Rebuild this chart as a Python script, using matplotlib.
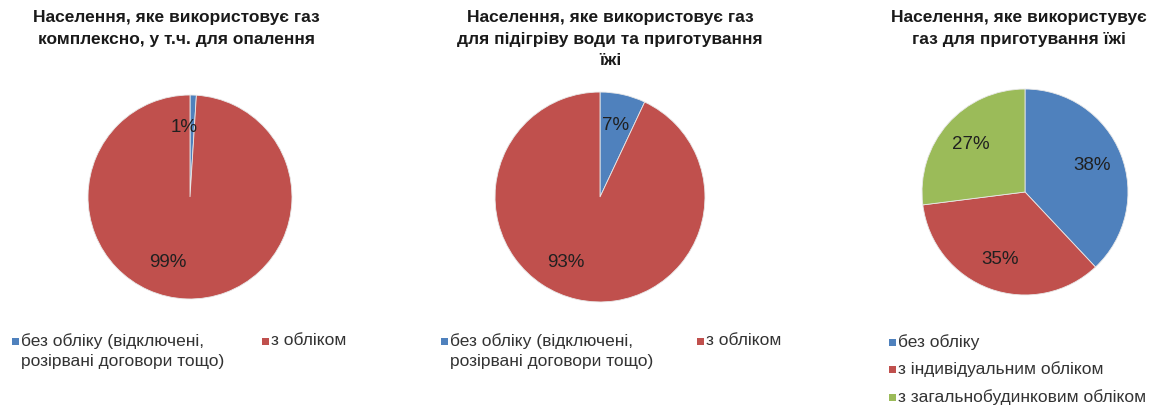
import matplotlib
matplotlib.use('Agg')
import matplotlib.pyplot as plt
from matplotlib.patches import Rectangle

plt.rcParams['font.family'] = ['Liberation Sans', 'DejaVu Sans']

W, H = 1162, 409

# дані
titles = [
    'Населення, яке використовує газ\nкомплексно, у т.ч. для опалення',
    'Населення, яке використовує газ\nдля підігріву води та приготування\nїжі',
    'Населення, яке використувує\nгаз для приготування їжі',
]
labels1 = ['без обліку (відключені,\nрозірвані договори тощо)', 'з обліком']
values1 = [1, 99]
labels2 = ['без обліку (відключені,\nрозірвані договори тощо)', 'з обліком']
values2 = [7, 93]
labels3 = ['без обліку', 'з індивідуальним обліком', 'з загальнобудинковим обліком']
values3 = [38, 35, 27]

colors = ['#4F81BD', '#C0504D', '#9BBB59']

fig = plt.figure(figsize=(W / 100, H / 100), dpi=100)
fig.patch.set_facecolor('white')


def px_axes(cx, cy, r):
    return fig.add_axes([(cx - r) / W, (H - cy - r) / H, 2 * r / W, 2 * r / H])


def pie(ax, vals):
    wedges, texts, autot = ax.pie(vals, colors=colors[:len(vals)], startangle=90,
                                  counterclock=False, autopct='%1.0f%%',
                                  pctdistance=0.7, radius=1,
                                  wedgeprops=dict(linewidth=0.6, edgecolor='#e8e8e8'),
                                  textprops=dict(fontsize=13.5, color='#202020'))
    ax.set_xlim(-1.01, 1.01)
    ax.set_ylim(-1.01, 1.01)
    ax.set_aspect('equal')
    ax.axis('off')
    return wedges, autot


ax1 = px_axes(190, 197, 103)
w1, t1 = pie(ax1, values1)
ax2 = px_axes(600, 197, 106)
w2, t2 = pie(ax2, values2)
ax3 = px_axes(1025, 192, 104)
w3, t3 = pie(ax3, values3)

# підписи великих секторів трохи зсунуті ліворуч, як в Excel
for t, dx, dy in [(t1[0], -0.08, -0.02), (t1[1], -0.2, 0.06), (t2[1], -0.17, 0.06)]:
    x, y = t.get_position()
    t.set_position((x + dx, y + dy))

# заголовки
for cx, title in zip([176, 610, 1019], titles):
    fig.text(cx / W, 1 - 10 / H, title, ha='center', va='top', fontsize=12.5,
             fontweight='bold', color='#1a1a1a', linespacing=1.55)


# легенди
def legend_item(x, y, color, text):
    fig.patches.append(Rectangle((x / W, 1 - (y + 3) / H), 7 / W, 7 / H,
                                 transform=fig.transFigure, facecolor=color,
                                 edgecolor='none'))
    fig.text((x + 9) / W, 1 - (y - 9) / H, text, ha='left', va='top',
             fontsize=12.5, color='#333333', linespacing=1.45)


legend_item(12, 342, colors[0], labels1[0])
legend_item(262, 342, colors[1], labels1[1])
legend_item(441, 342, colors[0], labels2[0])
legend_item(697, 342, colors[1], labels2[1])
for i, lab in enumerate(labels3):
    legend_item(889, [343, 370, 398][i], colors[i], lab)

fig.savefig('out.png', dpi=100, facecolor='white')
